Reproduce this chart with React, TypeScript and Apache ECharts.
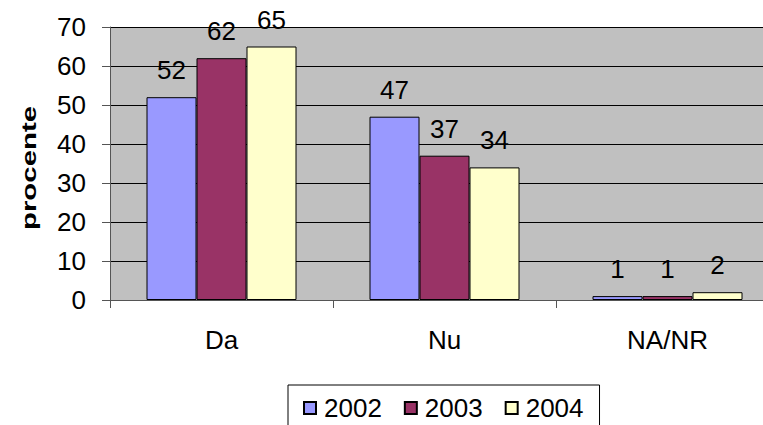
import React, { useEffect, useRef } from "react";
import * as echarts from "echarts";

const categories = ["Da", "Nu", "NA/NR"];
const years = ["2002", "2003", "2004"];
const values2002 = [52, 47, 1];
const values2003 = [62, 37, 1];
const values2004 = [65, 34, 2];
const colors = ["#9999FF", "#993366", "#FFFFCC"];
const yTicks = [0, 10, 20, 30, 40, 50, 60, 70];
const yAxisTitle = "procente";

const FONT = "'Liberation Sans', Arial, sans-serif";

export default function App() {
  const ref = useRef<HTMLDivElement>(null);
  useEffect(() => {
    if (!ref.current) return;
    const chart = echarts.init(ref.current, null, { renderer: "svg" });
    const seriesData = [values2002, values2003, values2004];
    chart.setOption({
      animation: false,
      textStyle: { fontFamily: FONT },
      grid: {
        left: 110,
        top: 27,
        width: 669,
        bottom: 125,
        show: true,
        backgroundColor: "#C0C0C0",
        borderWidth: 0,
      },
      graphic: [
        {
          type: "text",
          x: 29,
          y: 168,
          rotation: Math.PI / 2,
          scaleX: 1.4,
          scaleY: 1,
          style: {
            text: yAxisTitle,
            font: "bold 21px 'Liberation Sans', Arial, sans-serif",
            fill: "#000",
            align: "center",
            verticalAlign: "middle",
          },
        },
      ],
      legend: {
        data: years,
        left: 288,
        top: 385,
        orient: "horizontal",
        itemWidth: 12,
        itemHeight: 12,
        itemGap: 22,
        borderColor: "#000",
        borderWidth: 1,
        backgroundColor: "#fff",
        padding: [10, 16, 14, 15],
        icon: "rect",
        textStyle: { fontSize: 26, color: "#000", fontFamily: FONT, padding: [0, 0, 0, 3] },
      },
      xAxis: {
        type: "category",
        data: categories,
        axisLine: { show: true, lineStyle: { color: "#555", width: 1 } },
        axisTick: { show: true, inside: false, length: 8, alignWithLabel: false, lineStyle: { color: "#555" } },
        axisLabel: { fontSize: 26, color: "#000", margin: 27, fontFamily: FONT },
        splitLine: { show: false },
      },
      yAxis: {
        type: "value",
        min: yTicks[0],
        max: yTicks[yTicks.length - 1],
        interval: 10,
        axisLine: { show: true, lineStyle: { color: "#555", width: 1 } },
        axisTick: { show: true, inside: false, length: 8, lineStyle: { color: "#555" } },
        axisLabel: { fontSize: 26, color: "#000", margin: 24, fontFamily: FONT },
        splitLine: { show: true, lineStyle: { color: "#000", width: 1 } },
      },
      series: years.map((y, i) => ({
        name: y,
        type: "bar",
        data: seriesData[i],
        barWidth: 50,
        barGap: "0%",
        itemStyle: { color: colors[i], borderColor: "#000", borderWidth: 1 },
        label: {
          show: true,
          position: "top",
          distance: 14,
          fontSize: 26,
          color: "#000",
          fontFamily: FONT,
        },
      })),
    });
    return () => chart.dispose();
  }, []);
  return (
    <div style={{ width: 763, height: 425, position: "absolute", left: 0, top: 0, overflow: "hidden" }}>
      <div ref={ref} style={{ width: 790, height: 425 }} />
    </div>
  );
}
